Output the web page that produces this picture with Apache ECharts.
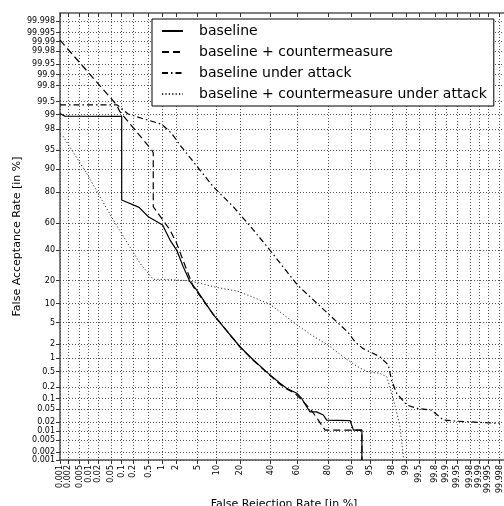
<!DOCTYPE html>
<html>
<head>
<meta charset="utf-8">
<script src="https://cdn.jsdelivr.net/npm/echarts@6/dist/echarts.min.js"></script>
<style>html,body{margin:0;padding:0;background:#fff;}#chart{width:504px;height:506px;}</style>
</head>
<body>
<div id="chart"></div>
<script>
// Tick positions (percent) and their labels, same for both axes
var tickValues = [0.001,0.002,0.005,0.01,0.02,0.05,0.1,0.2,0.5,1,2,5,10,20,40,60,80,90,95,98,99,99.5,99.8,99.9,99.95,99.98,99.99,99.995,99.998];
var tickLabels = ['0.001','0.002','0.005','0.01','0.02','0.05','0.1','0.2','0.5','1','2','5','10','20','40','60','80','90','95','98','99','99.5','99.8','99.9','99.95','99.98','99.99','99.995','99.998'];
var axisMinPct = 0.001, axisMaxPct = 99.999;

var seriesNames = ['baseline','baseline + countermeasure','baseline under attack','baseline + countermeasure under attack'];

// [False Rejection Rate %, False Acceptance Rate %]
var baseline = [[0.001,99.05],[0.0015,98.92],[0.1,98.9],[0.1,75.7],[0.29,71.1],[0.49,64.7],[1.04,58.7],[1.5,47.3],[2.05,39.8],[2.75,28.2],[3.67,19.4],[4.8,15.4],[8.9,6.8],[20.1,1.77],[28,0.92],[38.2,0.45],[47,0.254],[52,0.19],[59.6,0.139],[63.2,0.1],[66.7,0.058],[69,0.041],[73.3,0.041],[77.3,0.033],[79.2,0.023],[89.6,0.022],[90.7,0.011],[93.1,0.011],[93.1,0.001]];
var countermeasure = [[0.001,99.991],[0.0366,99.686],[0.072,99.4],[0.089,99.14],[0.59,95.05],[0.64,94.5],[0.64,71.5],[1.5,55],[2.05,44.8],[3.2,26.1],[4.2,16.9],[8.9,6.9],[20.1,1.75],[28,0.9],[38.2,0.44],[47,0.24],[52,0.18],[58,0.14],[62,0.1],[66.6,0.065],[70,0.045],[74.3,0.023],[78.3,0.011],[93.1,0.011],[93.1,0.001]];
var underAttack = [[0.001,99.4],[0.075,99.4],[0.15,99.03],[0.336,98.8],[0.99,98.39],[1.62,97.55],[2.38,95.96],[4.82,91.1],[8.9,82.9],[16.7,71.5],[28,55],[40,39],[60,17.8],[80,7],[88.8,3.4],[91.2,2.23],[93.3,1.64],[96.6,1.09],[97.65,0.71],[97.98,0.3],[98.4,0.139],[99.03,0.065],[99.43,0.052],[99.75,0.046],[99.88,0.023],[99.94,0.0215],[99.998,0.018]];
var cmUnderAttack = [[0.001,97.4],[0.0013,97.2],[0.0086,88.6],[0.0575,62.4],[0.305,30.5],[0.64,20.7],[1.5,20.5],[3.2,20],[4.8,19.1],[8.9,16.9],[19.5,14.7],[39.5,9.8],[59.6,4.6],[70,3.0],[80,1.9],[88.4,0.95],[92.6,0.6],[94.6,0.49],[96.6,0.45],[97.5,0.37],[98.3,0.058],[98.64,0.0142],[98.85,0.0013],[98.9,0.001]];

// inverse normal CDF (Acklam)
function probit(p){
  var a=[-3.969683028665376e+01,2.209460984245205e+02,-2.759285104469687e+02,1.383577518672690e+02,-3.066479806614716e+01,2.506628277459239e+00];
  var b=[-5.447609879822406e+01,1.615858368580409e+02,-1.556989798598866e+02,6.680131188771972e+01,-1.328068155288572e+01];
  var c=[-7.784894002430293e-03,-3.223964580411365e-01,-2.400758277161838e+00,-2.549732539343734e+00,4.374664141464968e+00,2.938163982698783e+00];
  var d=[7.784695709041462e-03,3.224671290700398e-01,2.445134137142996e+00,3.754408661907416e+00];
  var pl=0.02425, q, r;
  if(p<pl){q=Math.sqrt(-2*Math.log(p));return (((((c[0]*q+c[1])*q+c[2])*q+c[3])*q+c[4])*q+c[5])/((((d[0]*q+d[1])*q+d[2])*q+d[3])*q+1);}
  if(p<=1-pl){q=p-0.5;r=q*q;return (((((a[0]*r+a[1])*r+a[2])*r+a[3])*r+a[4])*r+a[5])*q/(((((b[0]*r+b[1])*r+b[2])*r+b[3])*r+b[4])*r+1);}
  q=Math.sqrt(-2*Math.log(1-p));return -(((((c[0]*q+c[1])*q+c[2])*q+c[3])*q+c[4])*q+c[5])/((((d[0]*q+d[1])*q+d[2])*q+d[3])*q+1);
}
function pz(pct){ return probit(pct/100); }
function toProbit(arr){ return arr.map(function(v){ return [pz(v[0]), pz(v[1])]; }); }

var tickZ = tickValues.map(pz);
function labelFor(v){
  for(var i=0;i<tickZ.length;i++){ if(Math.abs(tickZ[i]-v)<1e-6) return tickLabels[i]; }
  return '';
}
var zMin = pz(axisMinPct), zMax = pz(axisMaxPct);

var FONT = 'DejaVu Sans';
var gridLine = {show:true, lineStyle:{color:'#555', type:[1,2], width:1}};
var axisLineStyle = {show:true, onZero:false, lineStyle:{color:'#555', width:1.5}};

var chart = echarts.init(document.getElementById('chart'), null, {renderer:'canvas'});
chart.setOption({
  animation:false,
  backgroundColor:'#fff',
  grid:{left:60, top:13, width:448, height:447, containLabel:false, outerBoundsMode:'none'},
  legend:{
    orient:'vertical', left:152, top:19,
    data:seriesNames,
    itemWidth:21, itemHeight:14, itemGap:7,
    padding:[5,7,5,9],
    backgroundColor:'#fff', borderColor:'#000', borderWidth:1, borderRadius:0,
    itemStyle:{opacity:0},
    textStyle:{fontFamily:FONT, fontSize:14, color:'#000', padding:[0,0,0,11]}
  },
  xAxis:[{
    type:'value', min:zMin, max:zMax, position:'bottom',
    name:'False Rejection Rate [in %]', nameLocation:'middle', nameGap:39, nameMoveOverlap:false,
    nameTextStyle:{fontFamily:FONT, fontSize:11, color:'#000'},
    axisLine:axisLineStyle,
    axisTick:{show:true, inside:false, length:4, customValues:tickZ, lineStyle:{color:'#333'}},
    axisLabel:{show:true, customValues:tickZ, rotate:90, margin:5, fontFamily:FONT, fontSize:8, color:'#000', formatter:labelFor},
    splitLine:gridLine
  },{
    type:'value', min:zMin, max:zMax, position:'top',
    axisLine:axisLineStyle,
    axisTick:{show:true, inside:true, length:4, customValues:tickZ, lineStyle:{color:'#333'}},
    axisLabel:{show:false},
    splitLine:{show:false}
  }],
  yAxis:{
    type:'value', min:zMin, max:zMax,
    name:'False Acceptance Rate [in %]', nameLocation:'middle', nameGap:37, nameMoveOverlap:false,
    nameTextStyle:{fontFamily:FONT, fontSize:11, color:'#000'},
    axisLine:axisLineStyle,
    axisTick:{show:true, inside:false, length:4, customValues:tickZ, lineStyle:{color:'#333'}},
    axisLabel:{show:true, customValues:tickZ, margin:5, fontFamily:FONT, fontSize:8, color:'#000', formatter:labelFor},
    splitLine:gridLine
  },
  series:[
    {name:seriesNames[0], type:'line', data:toProbit(baseline), symbol:'none', showSymbol:false, clip:true,
     lineStyle:{color:'#000', width:1.2, type:'solid'}, itemStyle:{color:'#000'}},
    {name:seriesNames[1], type:'line', data:toProbit(countermeasure), symbol:'none', showSymbol:false, clip:true,
     lineStyle:{color:'#000', width:1.2, type:[7,4]}, itemStyle:{color:'#000'}},
    {name:seriesNames[2], type:'line', data:toProbit(underAttack), symbol:'none', showSymbol:false, clip:true,
     lineStyle:{color:'#000', width:1.2, type:[6,3,1.5,3]}, itemStyle:{color:'#000'}},
    {name:seriesNames[3], type:'line', data:toProbit(cmUnderAttack), symbol:'none', showSymbol:false, clip:true,
     lineStyle:{color:'#333', width:1, type:[1.2,2.2]}, itemStyle:{color:'#333'}}
  ]
});
</script>
</body>
</html>
